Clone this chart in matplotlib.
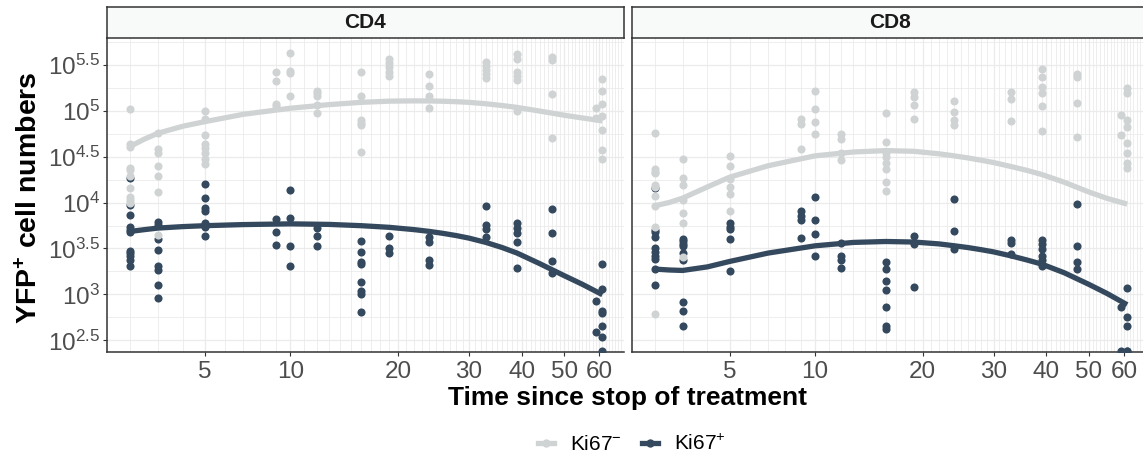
import numpy as np
import matplotlib
matplotlib.use('Agg')
import matplotlib.pyplot as plt
from matplotlib.ticker import FixedLocator, FixedFormatter, NullFormatter
from matplotlib.lines import Line2D

plt.rcParams['font.family'] = ['Liberation Sans', 'DejaVu Sans']
plt.rcParams['mathtext.fontset'] = 'custom'
plt.rcParams['mathtext.rm'] = 'Liberation Sans'
plt.rcParams['mathtext.it'] = 'Liberation Sans:italic'
plt.rcParams['mathtext.bf'] = 'Liberation Sans:bold'

# ---------------- data (log10 of YFP+ cell numbers) ----------------
times = [2, 3, 5, 9, 10, 12, 16, 19, 24, 33, 39, 47, 59, 61]

cd4_neg = [
    [5.018, 4.638, 4.602, 4.38, 4.355, 4.29, 4.157, 4.059, 4.03, 3.996],
    [4.761, 4.58, 4.537, 4.399, 4.293, 4.113, 3.649],
    [5.0, 4.91, 4.736, 4.638, 4.591, 4.537, 4.472, 4.417],
    [5.424, 5.323, 5.073, 5.054],
    [5.63, 5.435, 5.413, 5.163],
    [5.217, 5.189, 5.16, 5.062, 4.972],
    [5.417, 5.16, 4.899, 4.863, 4.845, 4.554],
    [5.562, 5.515, 5.472, 5.424, 5.377],
    [5.396, 5.272, 5.163, 5.033],
    [5.533, 5.486, 5.442, 5.396, 5.352],
    [5.616, 5.559, 5.417, 5.38, 5.334, 5.0],
    [5.587, 5.551, 5.182, 4.707],
    [5.026, 4.917],
    [5.341, 5.214, 5.07, 4.942, 4.79, 4.573, 4.472],
]
cd4_pos = [
    [4.265, 3.975, 3.859, 3.739, 3.703, 3.674, 3.478, 3.45, 3.413, 3.377, 3.312],
    [3.793, 3.758, 3.602, 3.486, 3.304, 3.268, 3.105, 2.961],
    [4.203, 4.048, 3.939, 3.913, 3.776, 3.739, 3.638],
    [3.826, 3.674, 3.54],
    [4.137, 3.83, 3.522, 3.312],
    [3.722, 3.638, 3.522],
    [3.584, 3.461, 3.348, 3.334, 3.135, 3.033, 3.008, 2.809],
    [3.641, 3.504, 3.45],
    [3.624, 3.57, 3.37, 3.315],
    [3.964, 3.758, 3.711, 3.624],
    [3.776, 3.722, 3.667, 3.57, 3.283],
    [3.928, 3.663, 3.359, 3.233],
    [2.924, 2.595],
    [3.33, 3.059, 2.815, 2.798, 2.652, 2.533, 2.38],
]
cd8_neg = [
    [4.761, 4.363, 4.337, 4.32, 4.192, 4.174, 4.073, 3.964, 3.739, 2.79],
    [4.475, 4.272, 4.192, 4.029, 3.885, 3.776, 3.406],
    [4.511, 4.399, 4.254, 4.174, 4.091, 3.91],
    [4.91, 4.855, 4.58],
    [5.217, 5.018, 4.88, 4.743],
    [4.747, 4.689, 4.543, 4.464],
    [4.972, 4.663, 4.537, 4.5, 4.435, 4.363, 4.228, 4.127],
    [5.2, 5.146, 5.062, 4.906],
    [5.109, 4.989, 4.899, 4.845],
    [5.207, 5.124, 4.888],
    [5.45, 5.363, 5.261, 5.196, 5.054, 4.783],
    [5.396, 5.37, 5.08, 4.711],
    [4.953, 4.736],
    [5.243, 5.196, 4.899, 4.826, 4.646, 4.543, 4.435, 4.374],
]
cd8_pos = [
    [4.157, 3.703, 3.674, 3.624, 3.504, 3.467, 3.413, 3.384, 3.276, 3.105],
    [3.604, 3.576, 3.551, 3.522, 3.45, 3.377, 2.913, 2.815, 2.66],
    [3.776, 3.739, 3.711, 3.602, 3.258],
    [3.913, 3.855, 3.812, 3.613],
    [4.065, 3.812, 3.66, 3.421],
    [3.565, 3.413, 3.377, 3.293],
    [3.348, 3.276, 3.141, 3.043, 2.859, 2.66, 2.624],
    [3.638, 3.548, 3.083],
    [4.037, 3.692, 3.497],
    [3.595, 3.565, 3.439],
    [3.595, 3.551, 3.497, 3.413, 3.377, 3.304],
    [3.983, 3.522, 3.352, 3.276],
    [2.859, 2.38],
    [3.07, 2.75, 2.652, 2.38, 2.38],
]

# smooth-fit curves
curve_t = [2, 2.5, 3, 4, 5, 7, 10, 13, 16, 19, 22, 24, 26, 28, 30, 33, 36, 39, 44, 50, 55, 61]
cd4_neg_curve = [4.609, 4.69, 4.754, 4.83, 4.88, 4.96, 5.026, 5.065, 5.09, 5.103, 5.106, 5.105,
                 5.102, 5.097, 5.09, 5.074, 5.055, 5.035, 4.995, 4.95, 4.92, 4.888]
cd4_pos_curve = [3.685, 3.705, 3.722, 3.738, 3.748, 3.76, 3.768, 3.762, 3.748, 3.73, 3.705, 3.686,
                 3.664, 3.64, 3.613, 3.565, 3.51, 3.45, 3.335, 3.205, 3.11, 2.997]
cd8_neg_curve = [3.964, 4.0, 4.048, 4.17, 4.276, 4.40, 4.508, 4.55, 4.565, 4.557, 4.53, 4.508,
                 4.485, 4.46, 4.435, 4.392, 4.35, 4.305, 4.22, 4.115, 4.045, 3.983]
cd8_pos_curve = [3.276, 3.266, 3.261, 3.30, 3.359, 3.45, 3.529, 3.566, 3.576, 3.57, 3.55, 3.53,
                 3.51, 3.487, 3.463, 3.42, 3.375, 3.33, 3.235, 3.11, 3.01, 2.888]

panels = ['CD4', 'CD8']
x_breaks = [5, 10, 20, 30, 40, 50, 60]
y_breaks = [2.5, 3.0, 3.5, 4.0, 4.5, 5.0, 5.5]
y_labels = ['2.5', '3', '3.5', '4', '4.5', '5', '5.5']
series_labels = [r'Ki67$^{-}$', r'Ki67$^{+}$']

col_neg = '#D0D3D4'
col_pos = '#34495E'

# ---------------- figure ----------------
W, H = 1143, 462
fig = plt.figure(figsize=(W / 100, H / 100), dpi=100)


def fwd(x):
    return np.log10(np.asarray(x, dtype=float) + 5)


def inv(y):
    return 10 ** np.asarray(y, dtype=float) - 5


def flat(ts, vals):
    xs, ys = [], []
    for t, v in zip(ts, vals):
        xs += [t] * len(v)
        ys += [10 ** a for a in v]
    return xs, ys


panel_top, panel_bot = 38, 351.7
strip_top = 7
lefts = [107, 631.7]
pw = 516.7
data = [(cd4_neg, cd4_pos, cd4_neg_curve, cd4_pos_curve),
        (cd8_neg, cd8_pos, cd8_neg_curve, cd8_pos_curve)]

for i, name in enumerate(panels):
    neg, pos, negc, posc = data[i]
    ax = fig.add_axes([lefts[i] / W, 1 - panel_bot / H, pw / W, (panel_bot - panel_top) / H])
    ax.set_xscale('function', functions=(fwd, inv))
    ax.set_yscale('log')
    ax.set_xlim(1.28, 68.0)
    ax.set_ylim(10 ** 2.377, 10 ** 5.79)

    xs, ys = flat(times, pos)
    ax.scatter(xs, ys, s=34, color=col_pos, linewidths=0, zorder=3)
    xs, ys = flat(times, neg)
    ax.scatter(xs, ys, s=34, color=col_neg, linewidths=0, zorder=3)
    ax.plot(curve_t, [10 ** v for v in negc], color=col_neg, lw=3.8, zorder=4,
            solid_capstyle='butt', solid_joinstyle='round')
    ax.plot(curve_t, [10 ** v for v in posc], color=col_pos, lw=3.8, zorder=5,
            solid_capstyle='butt', solid_joinstyle='round')

    ax.xaxis.set_major_locator(FixedLocator(x_breaks))
    ax.xaxis.set_major_formatter(FixedFormatter([str(b) for b in x_breaks]))
    ax.xaxis.set_minor_locator(FixedLocator([k for k in range(2, 73) if k not in x_breaks]))
    ax.xaxis.set_minor_formatter(NullFormatter())
    ax.yaxis.set_major_locator(FixedLocator([10 ** b for b in y_breaks]))
    ax.yaxis.set_major_formatter(FixedFormatter([r'$10^{%s}$' % l for l in y_labels]))
    ax.yaxis.set_minor_locator(FixedLocator([10 ** (b + 0.25) for b in y_breaks]))
    ax.yaxis.set_minor_formatter(NullFormatter())

    ax.set_axisbelow(True)
    ax.grid(which='major', color='#EBEBEB', lw=0.9)
    ax.grid(which='minor', color='#EBEBEB', lw=0.6)
    for s in ['top', 'right']:
        ax.spines[s].set_visible(False)
    for s in ['left', 'bottom']:
        ax.spines[s].set_color('#333333')
        ax.spines[s].set_linewidth(1.1)
    ax.tick_params(which='minor', length=0)
    ax.tick_params(which='major', length=3, width=0.8, color='#333333',
                   labelsize=17.5, labelcolor='#4D4D4D', pad=2)
    ax.tick_params(axis='x', which='major', pad=3.5)
    if i > 0:
        ax.tick_params(axis='y', which='major', length=0, labelleft=False)

    sax = fig.add_axes([lefts[i] / W, 1 - panel_top / H, pw / W, (panel_top - strip_top) / H])
    sax.set_facecolor('#F8F9F9')
    sax.set_xticks([])
    sax.set_yticks([])
    for s in sax.spines.values():
        s.set_color('#333333')
        s.set_linewidth(1.1)
    sax.text(0.5, 0.5, name, ha='center', va='center', fontsize=15,
             fontweight='bold', color='#1A1A1A', transform=sax.transAxes)

fig.text(30 / W, 1 - 198 / H, r'$\mathbf{YFP^{+}}$ cell numbers', rotation=90,
         ha='center', va='center', fontsize=20.5, fontweight='bold', color='black')
fig.text(628 / W, 1 - 398 / H, 'Time since stop of treatment', ha='center', va='center',
         fontsize=19, fontweight='bold', color='black')

handles = [Line2D([0], [0], color=col_neg, lw=3.8, marker='o', ms=6, mec='none'),
           Line2D([0], [0], color=col_pos, lw=3.8, marker='o', ms=6, mec='none')]
fig.legend(handles, series_labels, loc='center', bbox_to_anchor=(632 / W, 1 - 444 / H),
           ncol=2, frameon=False, fontsize=15, handlelength=0.75, handletextpad=0.75,
           columnspacing=1.0)

fig.savefig('out.png', dpi=100)
